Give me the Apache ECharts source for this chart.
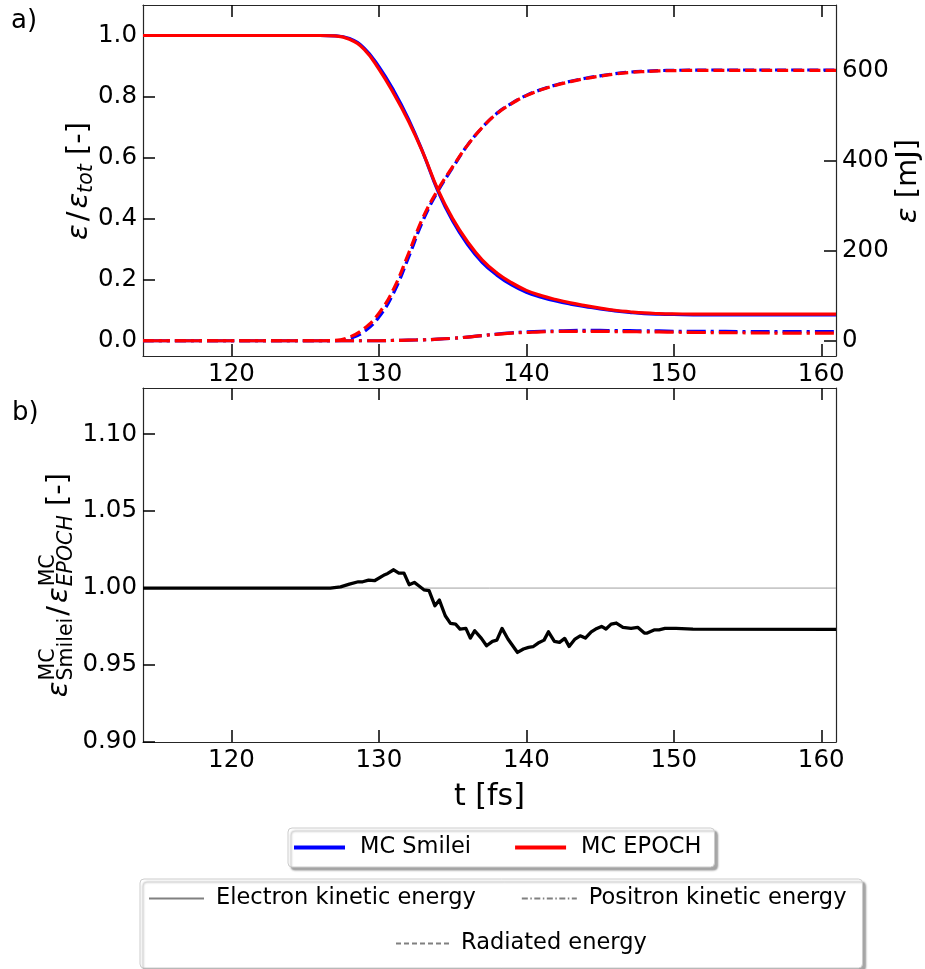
<!DOCTYPE html>
<html><head><meta charset="utf-8">
<script src="https://cdn.jsdelivr.net/npm/echarts@6/dist/echarts.min.js"></script>
<style>html,body{margin:0;padding:0;background:#fff}#c{width:925px;height:969px}</style>
</head><body><div id="c"></div>
<script>
// ---------- data ----------
const xTicks = [120, 130, 140, 150, 160];
const yTicksTop = [0, 0.2, 0.4, 0.6, 0.8, 1.0];
const yTicksRight = [0, 200, 400, 600];
const yTicksRatio = [0.90, 0.95, 1.00, 1.05, 1.10];

const tTop = [114,120,125,126,127,128,129,130,131,132,133,134,135,136,137,138,139,140,141,142,143,144,145,146,147,148,149,150,152,155,158,161];
const elecEPOCH  = [1,1,1,1,0.999,0.988,0.955,0.890,0.810,0.720,0.615,0.495,0.400,0.325,0.265,0.222,0.190,0.165,0.148,0.135,0.124,0.115,0.107,0.100,0.095,0.091,0.089,0.088,0.087,0.087,0.087,0.087];
const elecSmilei = [1,1,1,1,0.999,0.990,0.959,0.898,0.820,0.727,0.615,0.490,0.392,0.316,0.257,0.215,0.183,0.159,0.143,0.130,0.120,0.112,0.104,0.098,0.093,0.089,0.087,0.086,0.085,0.085,0.085,0.085];
const radEPOCH   = [0,0,0,0,0.001,0.012,0.040,0.090,0.170,0.285,0.405,0.495,0.570,0.640,0.698,0.744,0.777,0.803,0.822,0.837,0.849,0.859,0.867,0.874,0.879,0.882,0.884,0.885,0.886,0.886,0.886,0.886];
const radSmilei  = [0,0,0,0,0,0.007,0.030,0.078,0.157,0.272,0.395,0.490,0.567,0.640,0.698,0.745,0.778,0.804,0.823,0.838,0.850,0.860,0.868,0.875,0.880,0.883,0.885,0.886,0.887,0.887,0.887,0.887];
const posEPOCH   = [0,0,0,0,0,0,0,0,0.001,0.002,0.003,0.005,0.008,0.012,0.017,0.021,0.025,0.027,0.029,0.030,0.031,0.031,0.031,0.030,0.030,0.029,0.029,0.028,0.027,0.026,0.025,0.025];
const posSmilei  = [0,0,0,0,0,0,0,0,0.001,0.002,0.003,0.005,0.008,0.012,0.017,0.022,0.026,0.029,0.031,0.032,0.033,0.034,0.034,0.033,0.033,0.032,0.032,0.031,0.031,0.030,0.030,0.030];

const tRatio = [114,126.7,127.4,128.0,128.6,128.9,129.3,129.7,130.4,130.6,131.0,131.35,131.7,132.05,132.4,132.7,133.05,133.4,133.8,134.1,134.5,134.85,135.2,135.5,135.9,136.2,136.5,136.95,137.3,137.7,138.0,138.35,138.75,139.4,139.8,140.15,140.45,140.8,141.2,141.5,141.9,142.25,142.6,142.9,143.3,143.65,144.0,144.4,144.7,145.1,145.4,145.75,146.1,146.55,147.1,147.55,148.0,148.2,148.7,149.0,149.4,150.15,151.3,161];
const ratio  = [1.000,1.000,1.0008,1.0026,1.0041,1.0041,1.0052,1.0048,1.0087,1.0095,1.0119,1.0097,1.0097,1.0022,1.0037,1.0015,0.9989,0.9983,0.9885,0.9922,0.9820,0.9771,0.9766,0.9734,0.9738,0.9675,0.9723,0.9673,0.9625,0.9654,0.9662,0.9738,0.9669,0.9582,0.9604,0.9615,0.9619,0.9643,0.9662,0.9716,0.9654,0.9647,0.9673,0.9621,0.9669,0.9690,0.9675,0.9716,0.9734,0.9751,0.9734,0.9766,0.9773,0.9745,0.9738,0.9745,0.9708,0.9708,0.9729,0.9729,0.9738,0.9738,0.9734,0.9732];
const refLevel = 1.0;
const xRange = [114, 161];

// ---------- chart ----------
const FONT = '"DejaVu Sans"';
const BLUE = '#0000ff', RED = '#ff0000', GREY = '#808080';
const DASHED = [11, 5], DASHDOT = [19, 5, 3, 5];
const pairs = (t, v) => t.map((x, i) => [x, v[i]]);

function energySeries(name, color, vals, type, z) {
  return {
    name, type: 'line', xAxisIndex: 0, yAxisIndex: 0,
    data: pairs(tTop, vals), symbol: 'none', showSymbol: false,
    smooth: 0.45, color,
    itemStyle: { color }, lineStyle: { color, width: 3.2, type, cap: 'butt', join: 'round' },
    z, animation: false, silent: true
  };
}
function legendOnly(name, type) {
  return { name, type: 'line', xAxisIndex: 0, yAxisIndex: 0, data: [], symbol: 'none',
    color: GREY, itemStyle: { color: GREY }, lineStyle: { color: GREY, width: 1.5, type }, animation: false };
}

const axisLine = { show: true, onZero: false, lineStyle: { color: '#262626', width: 1.2 } };
const tickBase = { show: true, inside: true, length: 12, lineStyle: { color: '#000', width: 1.5 } };
const labelBase = { fontSize: 24.5, fontFamily: FONT, color: '#000' };

function xAx(grid, pos, labels, extra) {
  return Object.assign({
    gridIndex: grid, type: 'value', min: xRange[0], max: xRange[1], position: pos,
    axisLine, axisTick: Object.assign({}, tickBase, { customValues: xTicks }),
    axisLabel: labels ? Object.assign({}, labelBase, { customValues: xTicks, margin: 6 }) : { show: false },
    splitLine: { show: false }
  }, extra || {});
}

// rotated multi-part label (anticlockwise 90deg)
const mctx = document.createElement('canvas').getContext('2d');
function fontStr(p) { return (p.it ? 'italic ' : '') + p.s + 'px ' + FONT; }
function measure(p) { mctx.font = fontStr(p); return mctx.measureText(p.t).width; }
function rotLabel(cx, cy, segs) {
  let pos = 0; const placed = [];
  segs.forEach(seg => {
    if (seg.gap) { pos += seg.gap; return; }
    const items = seg.stack ? seg.stack : [seg];
    let w = 0;
    items.forEach(p => { placed.push({ p, x: pos }); w = Math.max(w, measure(p)); });
    pos += w;
  });
  const W = pos;
  return {
    type: 'group', x: cx, y: cy, rotation: Math.PI / 2, silent: true,
    children: placed.map(o => ({
      type: 'text', style: { text: o.p.t, x: o.x - W / 2, y: o.p.dy || 0, font: fontStr(o.p),
        fill: '#000', textAlign: 'left', textVerticalAlign: 'middle' }
    }))
  };
}

const LS = 29, SS = 20.5;
const legendBox = { backgroundColor: '#fff', borderColor: '#cccccc', borderWidth: 1, borderRadius: 4,
  shadowColor: 'rgba(0,0,0,0.35)', shadowBlur: 2, shadowOffsetX: 3, shadowOffsetY: 3 };
const legendText = (pl) => ({ fontSize: 22.5, fontFamily: FONT, color: '#000', padding: [0, 0, 0, pl] });

const chart = echarts.init(document.getElementById('c'), null, { renderer: 'canvas' });
chart.setOption({
  animation: false,
  backgroundColor: '#fff',
  textStyle: { fontFamily: FONT },
  grid: [
    { left: 143, right: 89, top: 5, height: 351 },
    { left: 143, right: 89, top: 388, height: 354 }
  ],
  xAxis: [
    xAx(0, 'bottom', true),
    xAx(0, 'top', false),
    xAx(1, 'bottom', true, { name: 't [fs]', nameLocation: 'middle', nameGap: 40,
      nameTextStyle: { fontSize: 30, fontFamily: FONT, color: '#000' } }),
    xAx(1, 'top', false)
  ],
  yAxis: [
    { gridIndex: 0, type: 'value', min: -0.05, max: 1.1, position: 'left', axisLine,
      axisTick: Object.assign({}, tickBase, { customValues: yTicksTop }),
      axisLabel: Object.assign({}, labelBase, { customValues: yTicksTop, margin: 6, formatter: v => v.toFixed(1) }),
      splitLine: { show: false } },
    { gridIndex: 0, type: 'value', min: -34, max: 747, position: 'right', axisLine,
      axisTick: Object.assign({}, tickBase, { customValues: yTicksRight }),
      axisLabel: Object.assign({}, labelBase, { customValues: yTicksRight, margin: 6, formatter: v => String(v) }),
      splitLine: { show: false } },
    { gridIndex: 1, type: 'value', min: 0.9, max: 1.13, position: 'left', axisLine,
      axisTick: Object.assign({}, tickBase, { customValues: yTicksRatio }),
      axisLabel: Object.assign({}, labelBase, { customValues: yTicksRatio, margin: 6, formatter: v => v.toFixed(2) }),
      splitLine: { show: false } },
    { gridIndex: 1, type: 'value', min: 0.9, max: 1.13, position: 'right', axisLine,
      axisTick: { show: false }, axisLabel: { show: false }, splitLine: { show: false } }
  ],
  legend: [
    Object.assign({ data: ['MC Smilei', 'MC EPOCH'], left: 288, top: 828, icon: 'rect', itemWidth: 51, itemHeight: 4,
      itemGap: 44, padding: [8, 13, 8, 6], selectedMode: false, textStyle: legendText(10) }, legendBox),
    Object.assign({ data: ['Electron kinetic energy', 'Positron kinetic energy'], left: 140, top: 879,
      itemWidth: 55, itemHeight: 14, itemGap: 45, padding: [8, 16, 58, 8], selectedMode: false,
      itemStyle: { opacity: 0 }, textStyle: legendText(7) }, legendBox),
    { data: ['Radiated energy'], left: 395, top: 932, itemWidth: 55, itemHeight: 14, padding: 0,
      selectedMode: false, itemStyle: { opacity: 0 }, textStyle: legendText(5) }
  ],
  graphic: [
    { type: 'text', left: 11, top: 8, silent: true, style: { text: 'a)', font: '26px ' + FONT, fill: '#000' } },
    { type: 'text', left: 12, top: 400, silent: true, style: { text: 'b)', font: '26px ' + FONT, fill: '#000' } },
    rotLabel(79, 181, [
      { t: 'ε', s: LS, it: true }, { gap: 3 }, { t: '/', s: LS }, { gap: 3 }, { t: 'ε', s: LS, it: true },
      { t: 'tot', s: SS, it: true, dy: 8 }, { t: ' [-]', s: LS }
    ]),
    rotLabel(908, 181, [ { t: 'ε', s: LS, it: true }, { t: ' [mJ]', s: LS } ]),
    rotLabel(59, 585, [
      { t: 'ε', s: LS, it: true }, { gap: 1 },
      { stack: [ { t: 'MC', s: SS, dy: -10 }, { t: 'Smilei', s: SS, dy: 8 } ] },
      { gap: 2 }, { t: '/', s: LS }, { gap: 3 }, { t: 'ε', s: LS, it: true }, { gap: 1 },
      { stack: [ { t: 'MC', s: SS, dy: -10 }, { t: 'EPOCH', s: SS, it: true, dy: 8 } ] },
      { t: ' [-]', s: LS }
    ])
  ],
  series: [
    energySeries('MC Smilei', BLUE, elecSmilei, 'solid', 2),
    energySeries('MC Smilei', BLUE, radSmilei, DASHED, 2),
    energySeries('MC Smilei', BLUE, posSmilei, DASHDOT, 2),
    energySeries('MC EPOCH', RED, elecEPOCH, 'solid', 3),
    energySeries('MC EPOCH', RED, radEPOCH, DASHED, 3),
    energySeries('MC EPOCH', RED, posEPOCH, DASHDOT, 3),
    legendOnly('Electron kinetic energy', 'solid'),
    legendOnly('Positron kinetic energy', [6, 2.5, 1.5, 2.5]),
    legendOnly('Radiated energy', [5, 3]),
    { name: 'reference', type: 'line', xAxisIndex: 2, yAxisIndex: 2, data: xRange.map(x => [x, refLevel]),
      symbol: 'none', lineStyle: { color: '#a0a0a0', width: 1 }, z: 1, silent: true, animation: false },
    { name: 'ratio', type: 'line', xAxisIndex: 2, yAxisIndex: 2, data: pairs(tRatio, ratio),
      symbol: 'none', lineStyle: { color: '#000', width: 3.3, join: 'round' }, color: '#000', z: 3, silent: true, animation: false }
  ]
});
</script></body></html>
